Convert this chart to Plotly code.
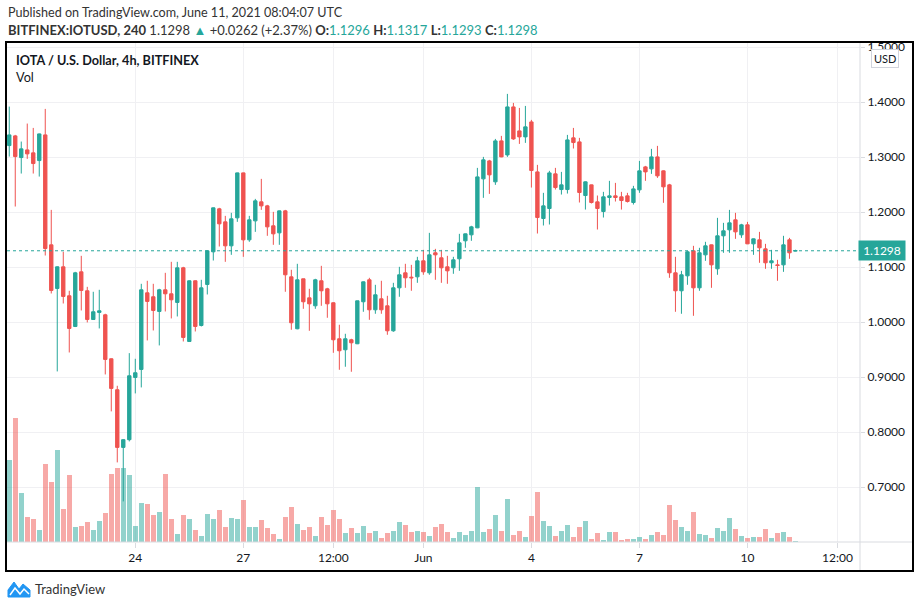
import pandas as pd
import plotly.graph_objects as go

# ---------------- data ----------------
start_time = "2021-05-20 12:00"
bar_hours = 4

open_ = [1.3212, 1.3388, 1.2994, 1.3133, 1.3079, 1.2939, 1.3406, 1.1406, 1.0612, 1.1006,
         1.0479, 0.9921, 1.0915, 1.0570, 1.0048, 1.0176, 1.0133, 0.9333, 0.8770, 0.7721,
         0.7861, 0.8994, 0.9139, 1.0533, 1.0461, 1.0194, 1.0588, 1.0515, 1.0358, 1.0988,
         0.9648, 1.0752, 0.9939, 1.0685, 1.1279, 1.2061, 1.1824, 1.1388, 1.1897, 1.2715,
         1.1497, 1.1842, 1.2188, 1.2115, 1.1752, 1.1624, 1.2024, 1.0824, 0.9879, 1.0788,
         1.0442, 1.0297, 1.0752, 1.0606, 1.0352, 0.9697, 0.9497, 0.9679, 0.9606, 1.0370,
         1.0770, 1.0224, 1.0424, 1.0297, 0.9842, 1.0624, 1.0897, 1.0818, 1.0824, 1.1115,
         1.0897, 1.1261, 1.1170, 1.1006, 1.0988, 1.1152, 1.1479, 1.1588, 1.1715, 1.2606,
         1.2933, 1.2552, 1.3297, 1.3042, 1.3915, 1.3479, 1.3370, 1.3642, 1.2733, 1.1885,
         1.2067, 1.2697, 1.2412, 1.2412, 1.3352, 1.3279, 1.2303, 1.2497, 1.2188, 1.2012,
         1.2267, 1.2297, 1.2279, 1.2297, 1.2176, 1.2406, 1.2824, 1.2788, 1.3006, 1.2752,
         1.2497, 1.0897, 1.0570, 1.0842, 1.1297, 1.0624, 1.1224, 1.1406, 1.0970, 1.1570,
         1.1679, 1.1861, 1.1588, 1.1770, 1.1424, 1.1497, 1.1333, 1.1079, 1.1042, 1.1042,
         1.1497, 1.1296]
high = [1.3921, 1.3406, 1.3285, 1.3612, 1.3533, 1.3430, 1.3879, 1.2042, 1.1015, 1.1279,
        1.0570, 1.0915, 1.1206, 1.0642, 1.0552, 1.0588, 1.0152, 0.9340, 0.8842, 0.7870,
        0.9436, 0.9333, 1.0697, 1.0752, 1.0697, 1.0606, 1.0897, 1.1097, 1.1097, 1.1006,
        1.0760, 1.0760, 1.0770, 1.1305, 1.2085, 1.2079, 1.1933, 1.1988, 1.2720, 1.2720,
        1.1933, 1.2242, 1.2606, 1.2133, 1.2006, 1.2030, 1.2042, 1.0952, 1.1061, 1.0790,
        1.0606, 1.0788, 1.1024, 1.0624, 1.0360, 0.9952, 0.9788, 0.9697, 1.0390, 1.0740,
        1.0806, 1.0679, 1.0752, 1.0479, 1.0715, 1.1006, 1.1061, 1.1042, 1.1188, 1.1315,
        1.1624, 1.1333, 1.1315, 1.1206, 1.1188, 1.1606, 1.1610, 1.1752, 1.2806, 1.3006,
        1.2952, 1.3333, 1.3388, 1.4152, 1.3988, 1.3897, 1.3933, 1.3679, 1.2861, 1.2352,
        1.2752, 1.2806, 1.2733, 1.3406, 1.3533, 1.3352, 1.2560, 1.2500, 1.2303, 1.2370,
        1.2570, 1.2533, 1.2370, 1.2352, 1.2479, 1.2933, 1.2842, 1.3152, 1.3206, 1.2760,
        1.2515, 1.1188, 1.0933, 1.1297, 1.1388, 1.1352, 1.1461, 1.1410, 1.1897, 1.1806,
        1.2042, 1.1988, 1.1788, 1.1824, 1.1520, 1.1642, 1.1424, 1.1315, 1.1133, 1.1570,
        1.1533, 1.1317]
low = [1.3012, 1.2103, 1.2703, 1.2970, 1.2703, 1.2648, 1.1212, 1.0521, 0.9103, 1.0339,
       0.9448, 0.9910, 1.0212, 0.9994, 1.0040, 0.9885, 0.9048, 0.8376, 0.7448, 0.6739,
       0.7830, 0.8703, 0.8812, 0.9667, 0.9848, 0.9576, 1.0194, 1.0067, 1.0103, 0.9648,
       0.9640, 0.9830, 0.9921, 1.0503, 1.1121, 1.1376, 1.1097, 1.1224, 1.1824, 1.1188,
       1.1461, 1.1642, 1.2042, 1.1570, 1.1406, 1.1406, 1.0552, 0.9861, 0.9870, 1.0242,
       0.9842, 1.0242, 1.0297, 1.0079, 0.9442, 0.9133, 0.9188, 0.9097, 0.9600, 1.0188,
       1.0042, 1.0152, 1.0152, 0.9770, 0.9824, 1.0461, 1.0624, 1.0570, 1.0715, 1.0861,
       1.0861, 1.0770, 1.0715, 1.0697, 1.0879, 1.0933, 1.1352, 1.1479, 1.1710, 1.2261,
       1.2333, 1.2497, 1.3000, 1.3006, 1.3315, 1.3242, 1.3261, 1.2448, 1.1612, 1.1758,
       1.1776, 1.2412, 1.2321, 1.2339, 1.3158, 1.2176, 1.2048, 1.2158, 1.1685, 1.1903,
       1.2121, 1.2194, 1.2048, 1.2176, 1.2139, 1.2352, 1.2570, 1.2697, 1.2624, 1.2170,
       1.0806, 1.0188, 1.0152, 1.0679, 1.0115, 1.0570, 1.1115, 1.0624, 1.0861, 1.1261,
       1.1261, 1.1515, 1.1533, 1.1420, 1.1224, 1.1079, 1.0970, 1.0970, 1.0752, 1.0915,
       1.1152, 1.1293]
close = [1.3406, 1.3012, 1.3152, 1.3061, 1.2885, 1.3424, 1.1339, 1.0576, 1.1006, 1.0467,
         0.9885, 1.0897, 1.0576, 1.0048, 1.0188, 1.0206, 0.9321, 0.8794, 0.7721, 0.7861,
         0.9024, 0.9079, 1.0588, 1.0376, 1.0212, 1.0588, 1.0515, 1.0406, 1.0988, 0.9721,
         1.0752, 0.9921, 1.0624, 1.1297, 1.2079, 1.1788, 1.1388, 1.1879, 1.2715, 1.1497,
         1.1861, 1.2206, 1.2115, 1.1733, 1.1606, 1.2024, 1.0861, 0.9988, 1.0770, 1.0370,
         1.0333, 1.0770, 1.0570, 1.0333, 0.9679, 0.9479, 0.9697, 0.9624, 1.0388, 1.0733,
         1.0224, 1.0497, 1.0224, 0.9842, 1.0624, 1.0861, 1.0806, 1.0806, 1.1115, 1.0915,
         1.1224, 1.1224, 1.0988, 1.0933, 1.1133, 1.1442, 1.1606, 1.1733, 1.2642, 1.2952,
         1.2679, 1.3297, 1.3006, 1.3915, 1.3333, 1.3370, 1.3552, 1.2758, 1.1903, 1.2115,
         1.2715, 1.2448, 1.2497, 1.3315, 1.3267, 1.2358, 1.2552, 1.2176, 1.2067, 1.2279,
         1.2297, 1.2267, 1.2212, 1.2194, 1.2424, 1.2752, 1.2733, 1.3006, 1.2661, 1.2461,
         1.0897, 1.0570, 1.0861, 1.1279, 1.0624, 1.1261, 1.1388, 1.1042, 1.1570, 1.1661,
         1.1806, 1.1642, 1.1770, 1.1424, 1.1515, 1.1352, 1.1079, 1.1115, 1.1030, 1.1406,
         1.1261, 1.1298]
volume = [247, 373, 148, 76, 70, 37, 235, 181, 277, 100,
          202, 46, 49, 61, 37, 64, 88, 205, 223, 223,
          202, 49, 118, 115, 82, 91, 205, 70, 25, 82,
          70, 37, 19, 85, 70, 97, 46, 73, 70, 127,
          46, 46, 67, 43, 25, 10, 76, 106, 55, 37,
          46, 19, 76, 52, 97, 70, 28, 43, 28, 49,
          28, 34, 13, 28, 34, 61, 52, 31, 34, 31,
          19, 46, 55, 31, 13, 31, 22, 34, 166, 31,
          40, 82, 34, 130, 22, 34, 16, 79, 151, 64,
          49, 19, 34, 52, 16, 46, 64, 10, 28, 7,
          31, 31, 7, 10, 10, 16, 10, 22, 31, 22,
          112, 67, 46, 34, 91, 25, 22, 13, 43, 34,
          73, 40, 19, 13, 16, 16, 40, 13, 28, 31,
          16, 4]

x_tick_dates = ["2021-05-24 00:00", "2021-05-27 00:00", "2021-05-29 12:00", "2021-06-01 00:00",
                "2021-06-04 00:00", "2021-06-07 00:00", "2021-06-10 00:00", "2021-06-12 12:00"]
x_tick_text = ["24", "27", "12:00", "Jun", "4", "7", "10", "12:00"]
price_ticks = [0.7, 0.8, 0.9, 1.0, 1.1, 1.2, 1.3, 1.4, 1.5]
last_price = 1.1298

# ---------------- styling ----------------
UP = "#26a69a"
DOWN = "#ef5350"
UP_VOL = "rgba(38,166,154,0.5)"
DOWN_VOL = "rgba(239,83,80,0.5)"
GRID = "#f0f0f3"
SEP = "#d9dbe0"
TXT = "#131722"
FONT = "Lato, 'Noto Sans', sans-serif"

times = pd.date_range(start_time, periods=len(close), freq=f"{bar_hours}h")
vol_colors = [UP_VOL if c >= o else DOWN_VOL for o, c in zip(open_, close)]
bar_ms = bar_hours * 3600 * 1000

W, H = 920, 607
ML, MR, MT, MB = 7, 60, 42, 65
PW, PH = W - ML - MR, H - MT - MB


def px(X, Y):
    return (X - ML) / PW, (H - MB - Y) / PH


fig = go.Figure()
fig.add_trace(go.Bar(
    x=times, y=volume, marker=dict(color=vol_colors, line=dict(width=0)),
    width=[bar_ms * 0.86] * len(volume), yaxis="y", hoverinfo="skip"))
fig.add_trace(go.Candlestick(
    x=times, open=open_, high=high, low=low, close=close, yaxis="y2",
    increasing=dict(line=dict(color=UP, width=1), fillcolor=UP),
    decreasing=dict(line=dict(color=DOWN, width=1), fillcolor=DOWN),
    whiskerwidth=0))

x0 = times[0] - pd.Timedelta(hours=1.5)
x1 = times[0] + pd.Timedelta(hours=567)

fig.update_layout(
    width=W, height=H,
    margin=dict(l=ML, r=MR, t=MT, b=MB, pad=0),
    paper_bgcolor="white", plot_bgcolor="white",
    showlegend=False, boxgap=0.2,
    font=dict(family=FONT, color=TXT, size=12),
    xaxis=dict(type="date", range=[x0, x1], tickvals=pd.to_datetime(x_tick_dates),
               ticktext=x_tick_text, showgrid=True, gridcolor=GRID, gridwidth=1,
               ticks="outside", ticklen=5, tickcolor=SEP, zeroline=False,
               showline=False, rangeslider=dict(visible=False),
               tickfont=dict(size=12, color=TXT, family=FONT)),
    yaxis=dict(range=[0, 1500], visible=False, showgrid=False, fixedrange=True),
    yaxis2=dict(overlaying="y", side="right", anchor="x",
                range=[0.6, 1.5096], tickvals=price_ticks, tickformat=".4f",
                showgrid=True, gridcolor=GRID, ticks="outside", ticklen=4,
                tickcolor=SEP, zeroline=False, showline=False,
                tickfont=dict(size=12, color=TXT, family=FONT)),
    bargap=0,
)

shapes = []
# current price dotted line
shapes.append(dict(type="line", xref="paper", yref="y2", x0=0, x1=1,
                   y0=last_price, y1=last_price, line=dict(color=UP, width=1, dash="dot")))
# mask above the plot on the price scale (cuts the 1.5000 label)
a, b = px(858, 0)
shapes.append(dict(type="rect", xref="paper", yref="paper", x0=a, x1=px(920, 0)[0],
                   y0=1.0, y1=b, fillcolor="white", line=dict(width=0), layer="above"))
# separators
sx, sy0 = px(860, 571)
shapes.append(dict(type="line", xref="paper", yref="paper", x0=1, x1=1, y0=sy0, y1=1,
                   line=dict(color=SEP, width=1)))
shapes.append(dict(type="line", xref="paper", yref="paper", x0=0, x1=px(913, 0)[0], y0=0, y1=0,
                   line=dict(color=SEP, width=1)))
# frame
fx0, fy0 = px(6, 571)
fx1, fy1 = px(913, 42)
shapes.append(dict(type="rect", xref="paper", yref="paper", x0=fx0, x1=fx1, y0=fy0, y1=fy1,
                   line=dict(color="#000000", width=2), fillcolor="rgba(0,0,0,0)", layer="above"))
# TradingView logo (simplified)
pts = [(8, 597), (8, 590), (14, 582), (19, 589), (23, 584), (30, 590), (30, 597)]
path = "M " + " L ".join(f"{px(X, Y)[0]:.5f},{px(X, Y)[1]:.5f}" for X, Y in pts) + " Z"
shapes.append(dict(type="path", xref="paper", yref="paper", path=path,
                   fillcolor="#2196f3", line=dict(color="#2196f3", width=1)))
pts2 = [(10, 595), (15, 588), (20, 594), (24, 589), (29, 594)]
path2 = "M " + " L ".join(f"{px(X, Y)[0]:.5f},{px(X, Y)[1]:.5f}" for X, Y in pts2)
shapes.append(dict(type="path", xref="paper", yref="paper", path=path2,
                   line=dict(color="white", width=1.5)))
fig.update_layout(shapes=shapes)

ann = []
def add_text(X, Y, text, size=12, color=TXT, anchor="left", **kw):
    x, y = px(X, Y)
    ann.append(dict(xref="paper", yref="paper", x=x, y=y, text=text, showarrow=False,
                    xanchor=anchor, yanchor="middle", font=dict(size=size, color=color, family=FONT), **kw))

add_text(6, 13, "Published on TradingView.com, June 11, 2021 08:04:07 UTC", size=12.6, color="#333333")
g = lambda s: f"<span style='color:{UP}'>{s}</span>"
add_text(6, 30, "<b>BITFINEX:IOTUSD, 240</b> 1.1298 " + g("▲") + " +0.0262 (+2.37%) "
         "<b>O:</b>" + g("1.1296") + " <b>H:</b>" + g("1.1317") + " <b>L:</b>" + g("1.1293")
         + " <b>C:</b>" + g("1.1298"), size=13, color="#333333")
add_text(14, 60, "<b>IOTA / U.S. Dollar, 4h, BITFINEX</b>", size=12.7)
add_text(14, 77, "Vol", size=12.7)
add_text(33, 589, "TradingView", size=13, color="#333333")
# USD badge
ux, uy = px(885, 58)
ann.append(dict(xref="paper", yref="paper", x=ux, y=uy, text="USD", showarrow=False,
                xanchor="center", yanchor="middle", font=dict(size=11, color=TXT, family=FONT),
                bgcolor="white", bordercolor="#d1d4dc", borderwidth=1, borderpad=2))
# last price label
ann.append(dict(xref="paper", yref="y2", x=1, y=last_price, text="1.1298", showarrow=False,
                xanchor="left", yanchor="middle", xshift=-2,
                font=dict(size=12, color="white", family=FONT),
                bgcolor=UP, borderpad=2, width=42))
fig.update_layout(annotations=ann)

fig.write_html("out.html", config={"displayModeBar": False},
               post_script="document.body.style.margin='0';")
